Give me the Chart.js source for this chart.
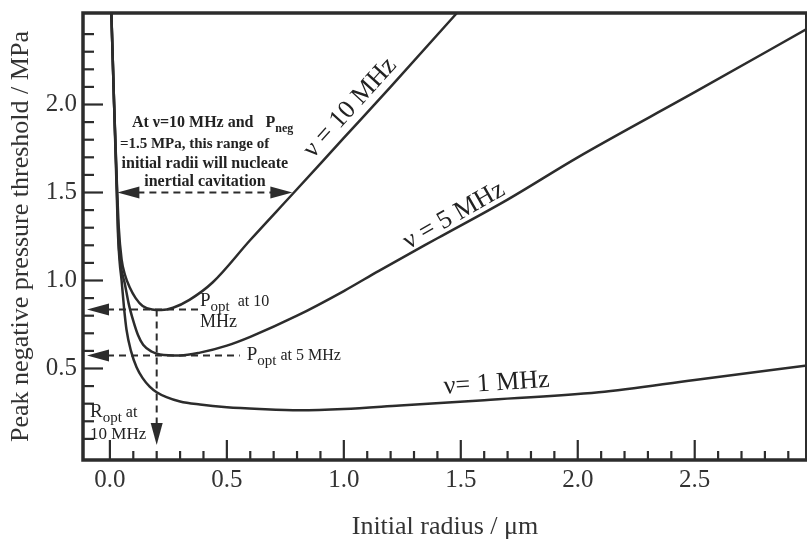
<!DOCTYPE html>
<html>
<head>
<meta charset="utf-8">
<script src="https://cdn.jsdelivr.net/npm/chart.js@4.4.1/dist/chart.umd.min.js"></script>
<style>
html, body { margin: 0; padding: 0; background: #fff; }
canvas { display: block; }
</style>
</head>
<body>
<canvas id="c" width="808" height="543"></canvas>
<script>
// --- values (radius in um, threshold in MPa) ---
const r10 = [0.004, 0.018, 0.03, 0.038, 0.05, 0.065, 0.085, 0.11, 0.14, 0.18, 0.22, 0.27, 0.34, 0.44, 0.6, 0.78, 1.0, 1.2, 1.47, 1.55];
const p10 = [2.62, 2.0, 1.55, 1.3, 1.12, 1.03, 0.96, 0.9, 0.855, 0.835, 0.832, 0.845, 0.89, 0.99, 1.23, 1.49, 1.81, 2.1, 2.5, 2.62];

const r5 = [0.004, 0.018, 0.03, 0.036, 0.045, 0.064, 0.08, 0.1, 0.12, 0.142, 0.18, 0.214, 0.3, 0.385, 0.5, 0.6, 0.8, 1.0, 1.15, 1.4, 1.7, 2.0, 2.5, 2.98];
const p5 = [2.62, 2.0, 1.52, 1.25, 1.1, 0.98, 0.87, 0.77, 0.69, 0.635, 0.595, 0.58, 0.574, 0.59, 0.63, 0.68, 0.8, 0.94, 1.055, 1.24, 1.46, 1.7, 2.07, 2.43];

const r1 = [0.004, 0.018, 0.028, 0.035, 0.042, 0.05, 0.06, 0.071, 0.09, 0.114, 0.14, 0.17, 0.2, 0.242, 0.3, 0.385, 0.5, 0.64, 0.81, 1.0, 1.24, 1.6, 2.09, 2.5, 2.98];
const p1 = [2.62, 2.0, 1.55, 1.25, 1.1, 1.0, 0.85, 0.72, 0.6, 0.507, 0.445, 0.397, 0.365, 0.337, 0.312, 0.295, 0.28, 0.27, 0.263, 0.27, 0.29, 0.32, 0.365, 0.435, 0.517];

const xTicks = [0.0, 0.5, 1.0, 1.5, 2.0, 2.5];
const yTicks = [0.5, 1.0, 1.5, 2.0];

// annotated quantities
const pNeg = 1.5;                    // MPa
const nucleateRange = [0.032, 0.78]; // um, where v=10 MHz crosses pNeg
const pOpt10 = 0.835, pOpt5 = 0.574, rOpt10 = 0.2;

const INK = '#2c2c2c';
const SERIF = '"Liberation Serif", "DejaVu Serif", serif';

// linear lookup on a curve, only used to sit the curve labels on their line
const along = (xs, ys, x) => {
  for (let i = 1; i < xs.length; i++) {
    if (x <= xs[i]) { const t = (x - xs[i-1]) / (xs[i] - xs[i-1]); return ys[i-1] + t * (ys[i] - ys[i-1]); }
  }
  return ys[ys.length - 1];
};

const pts = (xs, ys) => xs.map((x, i) => ({ x, y: ys[i] }));

// text made of pieces with different sizes (subscripts)
function rich(ctx, x, y, parts, align) {
  let w = 0;
  parts.forEach(p => { ctx.font = `${p.w || ''} ${p.s}px ${SERIF}`; w += ctx.measureText(p.t).width; });
  let cx = align === 'center' ? x - w / 2 : x;
  ctx.textAlign = 'left'; ctx.textBaseline = 'alphabetic';
  parts.forEach(p => {
    ctx.font = `${p.w || ''} ${p.s}px ${SERIF}`;
    ctx.fillText(p.t, cx, y + (p.dy || 0));
    cx += ctx.measureText(p.t).width;
  });
}

function head(ctx, x, y, ang) {
  ctx.save(); ctx.translate(x, y); ctx.rotate(ang);
  ctx.beginPath(); ctx.moveTo(0, 0); ctx.lineTo(-22, -6); ctx.lineTo(-22, 6); ctx.closePath(); ctx.fill();
  ctx.restore();
}

function dash(ctx, x1, y1, x2, y2) {
  ctx.save(); ctx.setLineDash([7, 5]); ctx.lineWidth = 2;
  ctx.beginPath(); ctx.moveTo(x1, y1); ctx.lineTo(x2, y2); ctx.stroke();
  ctx.restore();
}

const frame = {
  id: 'frame',
  afterDraw(chart) {
    const { ctx, chartArea: a, scales: { x, y } } = chart;
    const X = v => x.getPixelForValue(v), Y = v => y.getPixelForValue(v);
    ctx.save();
    ctx.strokeStyle = INK; ctx.fillStyle = INK;

    // box
    ctx.lineWidth = 3.5;
    ctx.beginPath(); ctx.moveTo(a.right, a.top); ctx.lineTo(a.left, a.top); ctx.lineTo(a.left, a.bottom); ctx.lineTo(a.right, a.bottom); ctx.stroke();
    ctx.lineWidth = 2;
    ctx.beginPath(); ctx.moveTo(a.right - 1, a.top); ctx.lineTo(a.right - 1, a.bottom); ctx.stroke();

    // inward ticks, minor every 0.1
    ctx.lineWidth = 2.2;
    for (let i = 0; i <= 29; i++) {
      const px = X(i / 10), len = i % 5 === 0 ? 20 : 9;
      ctx.beginPath(); ctx.moveTo(px, a.bottom); ctx.lineTo(px, a.bottom - len); ctx.stroke();
    }
    for (let i = 1; i <= 24; i++) {
      const py = Y(i / 10), len = i % 5 === 0 ? 20 : 11;
      ctx.beginPath(); ctx.moveTo(a.left, py); ctx.lineTo(a.left + len, py); ctx.stroke();
    }

    // nucleation range arrow at pNeg
    const yN = Y(pNeg), xa = X(nucleateRange[0]), xb = X(nucleateRange[1]);
    dash(ctx, xa + 20, yN, xb - 20, yN);
    head(ctx, xa, yN, Math.PI); head(ctx, xb, yN, 0);

    // optimum pressures / radius
    const tipL = a.left + 4;
    const y10 = Y(pOpt10), y5 = Y(pOpt5), xr = X(rOpt10);
    dash(ctx, tipL + 20, y10, X(0.385), y10); head(ctx, tipL, y10, Math.PI);
    dash(ctx, tipL + 20, y5, X(0.555), y5); head(ctx, tipL, y5, Math.PI);
    const tipB = Y(0.065);
    dash(ctx, xr, y10, xr, tipB - 20); head(ctx, xr, tipB, Math.PI / 2);

    // notes
    ctx.fillStyle = '#222';
    rich(ctx, X(0.094), Y(1.875), [{ t: 'At ν=10 MHz and   P', s: 16, w: 'bold' }, { t: 'neg', s: 12, w: 'bold', dy: 5 }], 'left');
    rich(ctx, X(0.362), Y(1.752), [{ t: '=1.5 MPa, this range of', s: 15, w: 'bold' }], 'center');
    rich(ctx, X(0.406), Y(1.642), [{ t: 'initial radii will nucleate', s: 16, w: 'bold' }], 'center');
    rich(ctx, X(0.406), Y(1.536), [{ t: 'inertial cavitation', s: 16, w: 'bold' }], 'center');

    rich(ctx, X(0.385), Y(0.855), [{ t: 'P', s: 19 }, { t: 'opt', s: 15, dy: 5 }, { t: '  at 10', s: 16 }], 'left');
    rich(ctx, X(0.385), Y(0.738), [{ t: 'MHz', s: 18 }], 'left');
    rich(ctx, X(0.585), Y(0.55), [{ t: 'P', s: 19 }, { t: 'opt', s: 15, dy: 5 }, { t: ' at 5 MHz', s: 16 }], 'left');
    rich(ctx, X(-0.085), Y(0.224), [{ t: 'R', s: 19 }, { t: 'opt', s: 15, dy: 5 }, { t: ' at', s: 16 }], 'left');
    rich(ctx, X(-0.085), Y(0.1), [{ t: '10 MHz', s: 17 }], 'left');

    // curve labels laid along their lines
    const lab = (txt, xs, ys, xc, x1, x2, gap) => {
      const ang = Math.atan2(Y(along(xs, ys, x2)) - Y(along(xs, ys, x1)), X(x2) - X(x1));
      ctx.save();
      ctx.translate(X(xc), Y(along(xs, ys, xc)));
      ctx.rotate(ang);
      ctx.font = `26px ${SERIF}`; ctx.textAlign = 'center'; ctx.textBaseline = 'alphabetic';
      ctx.fillText(txt, 0, -gap);
      ctx.restore();
    };
    lab('ν = 10 MHz', r10, p10, 1.077, 0.78, 1.47, 9);
    lab('ν = 5 MHz', r5, p5, 1.496, 1.15, 2.0, 5);
    lab('ν= 1 MHz', r1, p1, 1.658, 1.24, 2.09, 9);

    ctx.restore();
  }
};

const line = (xs, ys) => ({
  data: pts(xs, ys), borderColor: INK, borderWidth: 2.5, pointRadius: 0,
  fill: false, cubicInterpolationMode: 'monotone'
});

// fixed axis boxes so the plot frame lands where the figure has it
const fixBox = (w, h) => s => {
  if (w) s.width = w; if (h) s.height = h;
  s.paddingTop = 0; s.paddingBottom = 0; s.paddingLeft = 0; s.paddingRight = 0;
};

new Chart(document.getElementById('c'), {
  type: 'line',
  data: { datasets: [line(r10, p10), line(r5, p5), line(r1, p1)] },
  options: {
    responsive: false, animation: false, devicePixelRatio: 1,
    layout: { padding: { top: 13, right: 1, left: 0, bottom: 0 } },
    plugins: { legend: { display: false }, tooltip: { enabled: false } },
    scales: {
      x: {
        type: 'linear', min: -0.115, max: 2.98,
        afterFit: fixBox(0, 83),
        afterBuildTicks: s => { s.ticks = xTicks.map(v => ({ value: v })); },
        grid: { display: false, drawTicks: false }, border: { display: false },
        ticks: { color: '#333', padding: 5, maxRotation: 0, font: { family: SERIF, size: 25 }, callback: v => v.toFixed(1) },
        title: { display: true, text: 'Initial radius / μm', color: '#333', font: { family: SERIF, size: 26 }, padding: { top: 0, bottom: 0 } }
      },
      y: {
        type: 'linear', min: -0.02, max: 2.52,
        afterFit: fixBox(83, 0),
        afterBuildTicks: s => { s.ticks = yTicks.map(v => ({ value: v })); },
        grid: { display: false, drawTicks: false }, border: { display: false },
        ticks: { color: '#333', padding: 6, font: { family: SERIF, size: 25 }, callback: v => v.toFixed(1) },
        title: { display: true, text: 'Peak negative pressure threshold / MPa', color: '#333', font: { family: SERIF, size: 26 }, padding: { top: 6, bottom: 0 } }
      }
    }
  },
  plugins: [frame]
});
</script>
</body>
</html>
